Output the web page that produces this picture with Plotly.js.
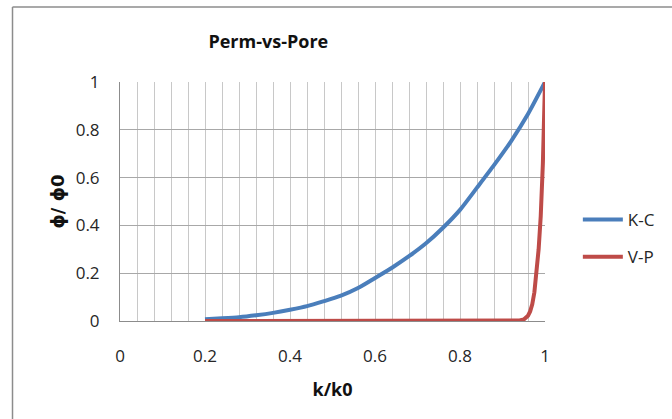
<!DOCTYPE html>
<html>
<head>
<meta charset="utf-8">
<script src="https://cdn.plot.ly/plotly-3.0.1.min.js"></script>
<style>
  html, body { margin: 0; padding: 0; background: #ffffff; }
  #chart { width: 672px; height: 419px; }
</style>
</head>
<body>
<div id="chart"></div>
<script>
// K-C series (k/k0 vs phi/phi0)
const kcX = [0.20, 0.24, 0.28, 0.32, 0.36, 0.40, 0.44, 0.48, 0.52, 0.56, 0.60,
             0.64, 0.68, 0.72, 0.76, 0.80, 0.84, 0.88, 0.92, 0.96, 1.00];
const kcY = [0.007, 0.011, 0.016, 0.024, 0.034, 0.047, 0.062, 0.083, 0.106, 0.138, 0.180,
             0.223, 0.271, 0.325, 0.390, 0.465, 0.558, 0.652, 0.752, 0.866, 1.000];

// V-P series
const vpX = [0.20, 0.30, 0.40, 0.50, 0.60, 0.70, 0.80, 0.90, 0.92, 0.93, 0.94, 0.95,
             0.955, 0.96, 0.965, 0.97, 0.975, 0.98, 0.985, 0.99, 0.995, 1.00];
const vpY = [0, 0, 0, 0, 0, 0, 0, 0, 0.0003, 0.0008, 0.002, 0.006,
             0.012, 0.022, 0.04, 0.07, 0.12, 0.20, 0.30, 0.44, 0.66, 1.00];

const seriesNames = ["K-C", "V-P"];
const xTickVals = [0, 0.2, 0.4, 0.6, 0.8, 1];
const xTickText = ["0", "0.2", "0.4", "0.6", "0.8", "1"];
const yTickVals = [0, 0.2, 0.4, 0.6, 0.8, 1];
const yTickText = ["0", "0.2", "0.4", "0.6", "0.8", "1"];

const FONT = "'Open Sans', 'Liberation Sans', sans-serif";

const traces = [
  {
    x: kcX, y: kcY, name: seriesNames[0], type: "scatter", mode: "lines",
    line: { color: "#4A7EBB", width: 4, shape: "spline", smoothing: 0.6 },
    legendgroup: "a"
  },
  {
    x: vpX, y: vpY, name: seriesNames[1], type: "scatter", mode: "lines",
    line: { color: "#BE4B48", width: 4, shape: "linear" },
    legendgroup: "b"
  }
];

// plot area pixel geometry: x 120..547, y 82..321
const L = 120, R = 547, T = 82, B = 321;
const px = v => (v - L) / (R - L);
const py = v => (B - v) / (B - T);

const layout = {
  width: 672, height: 419,
  margin: { l: L, r: 672 - R, t: T, b: 419 - B, pad: 0 },
  paper_bgcolor: "#ffffff",
  plot_bgcolor: "#ffffff",
  font: { family: FONT, size: 17, color: "#262626" },
  title: {
    text: "<b>Perm-vs-Pore</b>",
    font: { family: FONT, size: 18, color: "#111111" },
    x: px(269), xref: "paper", xanchor: "center",
    y: 1 - 42 / 419, yref: "container", yanchor: "middle"
  },
  xaxis: {
    range: [0, 1],
    tickvals: xTickVals, ticktext: xTickText,
    ticks: "", ticklabelstandoff: 20,
    tickfont: { family: FONT, size: 17, color: "#262626" },
    showgrid: true, gridcolor: "#C8C8C8", gridwidth: 1,
    minor: { dtick: 0.04, showgrid: true, gridcolor: "#C8C8C8", gridwidth: 1, ticks: "" },
    showline: true, linecolor: "#8C8C8C", linewidth: 1,
    zeroline: false, fixedrange: true,
    title: { text: "<b>k/k0</b>", font: { family: FONT, size: 18, color: "#111111" }, standoff: 16 }
  },
  yaxis: {
    range: [0, 1],
    tickvals: yTickVals, ticktext: yTickText,
    ticks: "", ticklabelstandoff: 16,
    tickfont: { family: FONT, size: 17, color: "#262626" },
    showgrid: true, gridcolor: "#A8A8A8", gridwidth: 1,
    showline: true, linecolor: "#8C8C8C", linewidth: 1,
    zeroline: false, fixedrange: true,
    title: { text: "<b>ϕ/ ϕ0</b>", font: { family: "'DejaVu Sans', " + FONT, size: 18, color: "#111111" }, standoff: 6 }
  },
  showlegend: true,
  legend: {
    x: px(580), xanchor: "left",
    y: py(238.5), yanchor: "middle",
    font: { family: FONT, size: 17, color: "#262626" },
    bgcolor: "rgba(0,0,0,0)",
    traceorder: "grouped", tracegroupgap: 12,
    itemwidth: 40
  },
  shapes: [
    { type: "line", xref: "paper", yref: "paper",
      x0: px(12), x1: px(12), y0: py(7), y1: py(440),
      line: { color: "#8C8C8C", width: 1.5 } },
    { type: "line", xref: "paper", yref: "paper",
      x0: px(12), x1: px(700), y0: py(7), y1: py(7),
      line: { color: "#8C8C8C", width: 1.5 } }
  ]
};

Plotly.newPlot("chart", traces, layout, { displayModeBar: false, staticPlot: true });
</script>
</body>
</html>
